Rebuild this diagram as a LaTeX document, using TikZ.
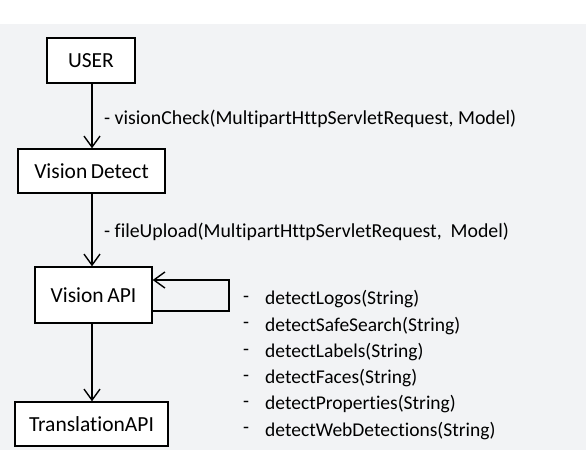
\documentclass[tikz,border=0pt]{standalone}
\usepackage{fontspec}
\setmainfont[Ligatures=NoCommon]{Carlito}
\usetikzlibrary{arrows.meta,positioning}
\definecolor{panel}{RGB}{242,243,245}
\tikzset{
	box/.style={draw, line width=1.4pt, fill=white, inner sep=0pt,
		font=\fontsize{21.5}{24}\selectfont},
	flow/.style={line width=1.4pt, -{Straight Barb[length=11pt,width=16pt,line width=1.4pt]}},
	call/.style={anchor=west, inner sep=0pt, font=\fontsize{19.8}{22}\selectfont},
	item/.style={anchor=west, inner sep=0pt, font=\fontsize{19.5}{22}\selectfont}
}
\begin{document}
	\begin{tikzpicture}[x=1pt,y=-1pt]
		\useasboundingbox (0,0) rectangle (586,450);
		\fill[panel] (0,24) rectangle (586,450);
		% boxes
		\node[box, minimum width=88pt, minimum height=45pt] (user) at (91,60.5) {USER};
		\node[box, minimum width=147pt, minimum height=44pt] (detect) at (91.5,171) {Vision\,Detect};
		\node[box, minimum width=117pt, minimum height=56pt] (vapi) at (93.5,295) {Vision\,API};
		\node[box, minimum width=153pt, minimum height=44pt] (trans) at (91.5,424) {TranslationAPI};
		% calls
		\draw[flow] (user.south -| 92,0) -- (detect.north -| 92,0);
		\node[call] (check) at (104,119) {- visionCheck(MultipartHttpServletRequest,\ Model)};
		\draw[flow] (detect.south -| 92,0) -- (vapi.north -| 92,0);
		\node[call] (upload) at (104,232) {- fileUpload(MultipartHttpServletRequest,\ \ Model)};
		\draw[flow] (vapi.south -| 92,0) -- (trans.north -| 92,0);
		% self call
		\coordinate (loopR) at (229,296);
		\draw[flow] ([yshift=-16pt]vapi.east) -| (loopR) |- ([yshift=15pt]vapi.east);
		\foreach \name [count=\i] in {detectLogos,detectSafeSearch,detectLabels,detectFaces,detectProperties,detectWebDetections}
		{
			\node[item] (dash\i) at (243,273+26.3*\i) {-};
			\node[item] (m\i) at (265,273+26.3*\i) {\name(String)};
		}
	\end{tikzpicture}
\end{document}
